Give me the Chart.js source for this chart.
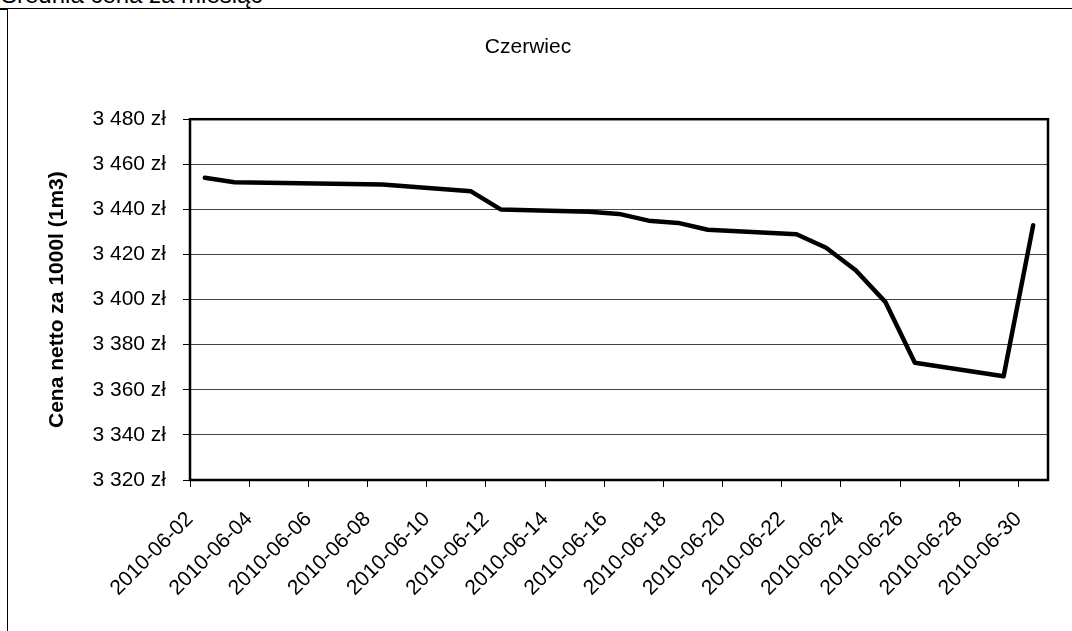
<!DOCTYPE html>
<html>
<head>
<meta charset="utf-8">
<script src="https://cdn.jsdelivr.net/npm/chart.js@4.4.0/dist/chart.umd.min.js"></script>
<style>
    html, body { margin: 0; padding: 0; background: #fff; overflow: hidden; }
    body { width: 1072px; height: 631px; position: relative; font-family: 'Liberation Sans', Arial, sans-serif; }
    #sheet-title { position: absolute; left: 1px; top: -17px; font-size: 24px; line-height: 24px; color: #000; white-space: nowrap; }
    #frame { position: absolute; left: 7px; top: 8px; width: 1080px; height: 640px; border-top: 1px solid #000; border-left: 1.5px solid #000; }
    #corner { position: absolute; left: 0; top: 8px; width: 8px; height: 2px; background: #000; }
    #wrap { position: absolute; left: 8px; top: 10px; width: 1070px; height: 621px; }
</style>
</head>
<body>
<div id="sheet-title">Średnia cena za miesiąc</div>
<div id="frame"></div>
<div id="corner"></div>
<div id="wrap"><canvas id="priceChart"></canvas></div>
<script>
// Dates with a price and the price for each
const dates = ['2010-06-02', '2010-06-03', '2010-06-08', '2010-06-11', '2010-06-12', '2010-06-15',
    '2010-06-16', '2010-06-17', '2010-06-18', '2010-06-19', '2010-06-22', '2010-06-23',
    '2010-06-24', '2010-06-25', '2010-06-26', '2010-06-29', '2010-06-30'];
const prices = [3454, 3452, 3451, 3448, 3440, 3439, 3438, 3435, 3434, 3431, 3429, 3423,
    3413, 3399, 3372, 3366, 3433];

// Axis labels
const tickLabels = ['2010-06-02', '2010-06-04', '2010-06-06', '2010-06-08', '2010-06-10',
    '2010-06-12', '2010-06-14', '2010-06-16', '2010-06-18', '2010-06-20', '2010-06-22',
    '2010-06-24', '2010-06-26', '2010-06-28', '2010-06-30'];
const yMin = 3320;
const yMax = 3480;
const yStep = 20;

document.addEventListener('DOMContentLoaded', () => {
    const ctx = document.getElementById('priceChart').getContext('2d');
    const firstDay = Number(tickLabels[0].slice(8));

    // each date sits in the middle of its one-day slot
    const points = dates.map((d, i) => ({ x: Number(d.slice(8)) - firstDay + 0.5, y: prices[i] }));

    const formatPrice = (v) => String(v).replace(/\B(?=(\d{3})+(?!\d))/g, ' ') + ' zł';

    // Border round the plot area
    const plotFrame = {
        id: 'plotFrame',
        afterDraw: (chart) => {
            const { ctx, chartArea } = chart;
            ctx.save();
            ctx.strokeStyle = '#000';
            ctx.lineWidth = 2.5;
            ctx.strokeRect(chartArea.left, chartArea.top, chartArea.right - chartArea.left, chartArea.bottom - chartArea.top);
            ctx.restore();
        }
    };

    Chart.defaults.font.family = "'Liberation Sans', Arial, sans-serif";
    Chart.defaults.color = '#000';

    new Chart(ctx, {
        type: 'line',
        data: {
            datasets: [{
                data: points,
                borderColor: '#000',
                borderWidth: 4.5,
                borderCapStyle: 'round',
                borderJoinStyle: 'round',
                pointRadius: 0,
                tension: 0,
                fill: false
            }]
        },
        options: {
            responsive: true,
            maintainAspectRatio: false,
            animation: false,
            layout: { padding: { left: 0, right: 30, top: 0, bottom: 0 } },
            plugins: {
                legend: { display: false },
                tooltip: { enabled: false },
                title: {
                    display: true,
                    text: 'Czerwiec',
                    font: { size: 21, weight: 'normal' },
                    color: '#000',
                    padding: { top: 25, bottom: 59 }
                }
            },
            scales: {
                x: {
                    type: 'linear',
                    min: 0,
                    max: tickLabels.length * 2 - 1,
                    afterFit: (scale) => { scale.height = 151; },
                    grid: { drawOnChartArea: false, drawTicks: true, tickLength: 7, tickColor: '#000' },
                    border: { display: false },
                    ticks: {
                        stepSize: 2,
                        includeBounds: false,
                        autoSkip: false,
                        minRotation: 45,
                        maxRotation: 45,
                        padding: 20,
                        font: { size: 21 },
                        callback: (v) => tickLabels[v / 2]
                    }
                },
                y: {
                    min: yMin,
                    max: yMax,
                    afterFit: (scale) => { scale.width = 182; },
                    grid: { color: '#444', lineWidth: 1, tickLength: 7, tickColor: '#000' },
                    border: { display: false },
                    ticks: {
                        stepSize: yStep,
                        padding: 17,
                        font: { size: 21 },
                        callback: (v) => formatPrice(v)
                    },
                    title: {
                        display: true,
                        text: 'Cena netto za 1000l (1m3)',
                        font: { size: 21, weight: 'bold' },
                        padding: { top: 37, bottom: 0 }
                    }
                }
            }
        },
        plugins: [plotFrame]
    });
});
</script>
</body>
</html>
